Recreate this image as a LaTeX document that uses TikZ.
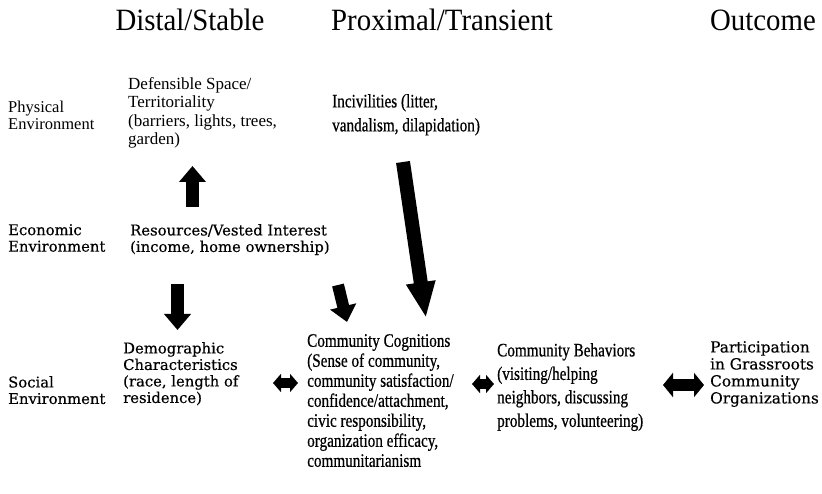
\documentclass[tikz,border=0pt]{standalone}
\usepackage{fontspec}
\setmainfont{Liberation Serif}
\newfontfamily\headfont[FakeStretch=0.93]{Liberation Serif}
\newfontfamily\schfont[FakeBold=0.4]{DejaVu Serif}
\newfontfamily\condfont[FakeStretch=0.8, FakeBold=0.6]{Liberation Serif}
\usetikzlibrary{arrows.meta}

\begin{document}
\begin{tikzpicture}[x=1pt, y=-1pt,
  every node/.style={inner sep=0pt, anchor=north west, align=left},
  head/.style={anchor=center, font=\headfont\fontsize{31}{34}\selectfont},
  tm/.style={font=\fontsize{17}{18.5}\selectfont},
  sch/.style={font=\schfont\fontsize{14.8}{16.5}\selectfont},
  cond/.style={font=\condfont\fontsize{19}{20}\selectfont},
  blk/.style={line width=13pt, -{Triangle[width=26pt, length=16pt]}},
  dbl/.style={line width=10pt, {Triangle[width=18pt, length=8pt]}-{Triangle[width=18pt, length=8pt]}}]
	\useasboundingbox (0,0) rectangle (822,494);
	% column headings
	\node[head] (distal) at (190,20) {Distal/Stable};
	\node[head] (proximal) at (442,20) {Proximal/Transient};
	\node[head] (outcome) at (763,20) {Outcome};
	% row labels
	\node[tm, font=\fontsize{16.5}{17}\selectfont] (physical) at (8,101) {Physical\\Environment};
	\node[sch] (economic) at (8,224) {Economic\\Environment};
	\node[sch] (social) at (8,376) {Social\\Environment};
	% boxes of text
	\node[tm] (defspace) at (128,77) {Defensible Space/\\Territoriality\\(barriers, lights, trees,\\garden)};
	\node[cond, font=\condfont\fontsize{19}{24}\selectfont] (incivil) at (332,94) {Incivilities (litter,\\vandalism, dilapidation)};
	\node[sch] (resources) at (130,224) {Resources/Vested Interest\\(income, home ownership)};
	\node[sch] (demog) at (123,342) {Demographic\\Characteristics\\(race, length of\\residence)};
	\node[cond] (cognit) at (307,334) {Community Cognitions\\(Sense of community,\\community satisfaction/\\confidence/attachment,\\civic responsibility,\\organization efficacy,\\communitarianism};
	\node[cond, font=\condfont\fontsize{19}{23.5}\selectfont] (behav) at (497,343) {Community Behaviors\\(visiting/helping\\neighbors, discussing\\problems, volunteering)};
	\node[sch, font=\schfont\fontsize{15.3}{17}\selectfont] (partic) at (710,341) {Participation\\in Grassroots\\Community\\Organizations};
	% arrow ends
	\coordinate (up_s) at (192.5,207);
	\coordinate (up_e) at (192.5,166);
	\coordinate (dn_s) at (177.5,284);
	\coordinate (dn_e) at (177.5,330);
	\coordinate (mid_s) at (338,285);
	\coordinate (mid_e) at (347,322);
	\coordinate (inc_s) at (403,162);
	\coordinate (inc_e) at (426,318);
	\coordinate (dc_w) at (273,383);
	\coordinate (dc_e) at (298,383);
	\coordinate (cb_w) at (472,384);
	\coordinate (cb_e) at (494,384);
	\coordinate (bp_w) at (663,385);
	\coordinate (bp_e) at (704,385);
	% arrows
	\draw[blk] (up_s) -- (up_e);
	\draw[blk] (dn_s) -- (dn_e);
	\draw[blk, line width=12pt] (mid_s) -- (mid_e);
	\draw[blk, line width=14pt, -{Triangle[width=27pt, length=36pt]}] (inc_s) -- (inc_e);
	\draw[dbl] (dc_w) -- (dc_e);
	\draw[dbl] (cb_w) -- (cb_e);
	\draw[dbl, line width=12pt, {Triangle[width=24pt, length=10pt]}-{Triangle[width=24pt, length=10pt]}] (bp_w) -- (bp_e);
\end{tikzpicture}
\end{document}
